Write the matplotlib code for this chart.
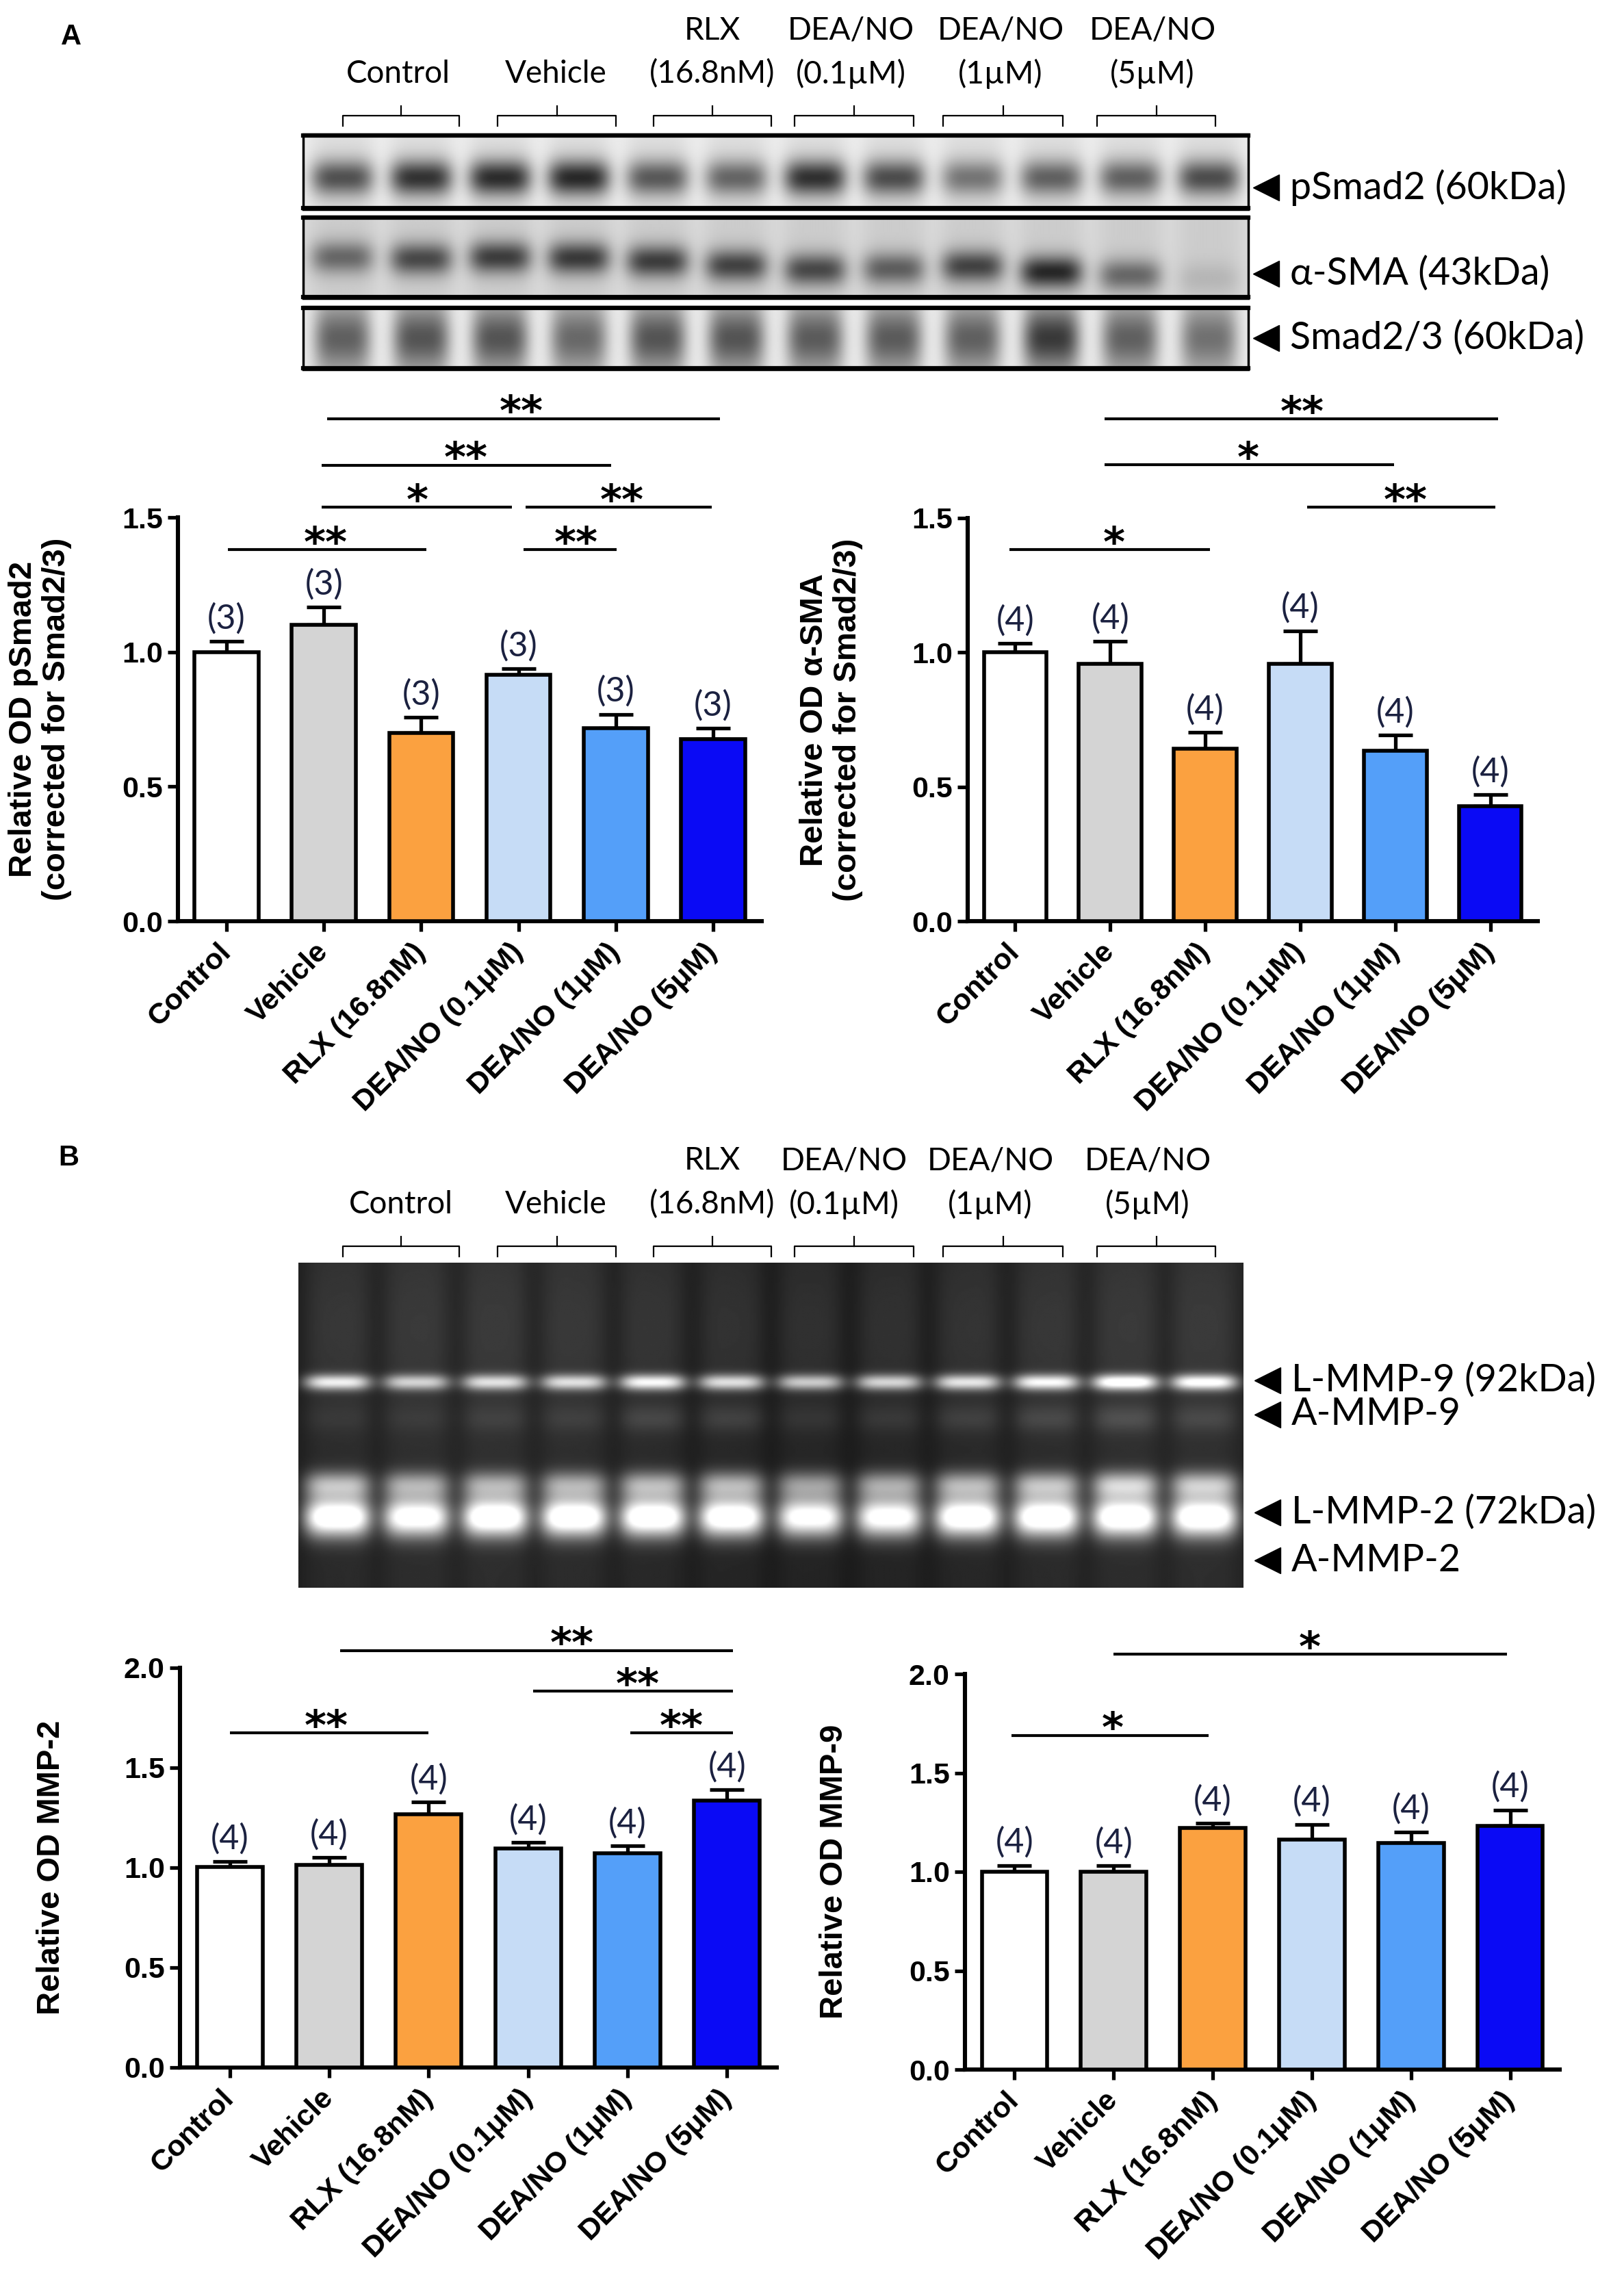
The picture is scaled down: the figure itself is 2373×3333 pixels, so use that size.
import numpy as np
import matplotlib
matplotlib.use("Agg")
import matplotlib.pyplot as plt
from matplotlib import font_manager
from matplotlib.patches import Rectangle
from matplotlib.ticker import FormatStrFormatter

W, H = 2373, 3333

# ---- data ----
groups = ["Control", "Vehicle", "RLX (16.8nM)", "DEA/NO (0.1\u03bcM)",
          "DEA/NO (1\u03bcM)", "DEA/NO (5\u03bcM)"]
bar_colors = ["#ffffff", "#d4d4d4", "#fba140", "#c6dcf6", "#549ff9", "#0a0af5"]

psmad2_mean = [1.00, 1.10, 0.70, 0.914, 0.717, 0.676]
psmad2_sem = [0.04, 0.067, 0.058, 0.023, 0.052, 0.041]
psmad2_n = [3, 3, 3, 3, 3, 3]
# (x start, x end, y, stars, star x)
psmad2_sig = [(0.01, 2.05, 1.380, "**", 1.02), (3.05, 4.01, 1.380, "**", 3.59),
              (0.98, 2.93, 1.538, "*", 1.96), (3.07, 4.99, 1.538, "**", 4.06),
              (0.98, 3.95, 1.694, "**", 2.46), (1.03, 5.07, 1.867, "**", 3.03)]

asma_mean = [1.00, 0.957, 0.643, 0.957, 0.634, 0.428]
asma_sem = [0.033, 0.085, 0.059, 0.124, 0.058, 0.043]
asma_n = [4, 4, 4, 4, 4, 4]
asma_sig = [(-0.06, 2.05, 1.383, "*", 1.04), (3.07, 5.05, 1.541, "**", 4.11),
            (0.94, 3.99, 1.698, "*", 2.45), (0.94, 5.08, 1.868, "**", 3.02)]

mmp2_mean = [1.003, 1.014, 1.266, 1.095, 1.072, 1.335]
mmp2_sem = [0.027, 0.036, 0.062, 0.031, 0.036, 0.055]
mmp2_n = [4, 4, 4, 4, 4, 4]
mmp2_sig = [(0.0, 2.0, 1.675, "**", 0.97), (4.03, 5.06, 1.675, "**", 4.54),
            (3.05, 5.06, 1.882, "**", 4.10), (1.11, 5.06, 2.087, "**", 3.44)]

mmp9_mean = [1.001, 1.000, 1.220, 1.162, 1.144, 1.233]
mmp9_sem = [0.031, 0.030, 0.026, 0.078, 0.058, 0.080]
mmp9_n = [4, 4, 4, 4, 4, 4]
mmp9_sig = [(-0.03, 1.96, 1.69, "*", 0.99), (1.0, 4.97, 2.10, "*", 2.98)]

lane_top = ["", "", "RLX", "DEA/NO", "DEA/NO", "DEA/NO"]
lane_bottom = ["Control", "Vehicle", "(16.8nM)", "(0.1\u00b5M)", "(1\u00b5M)", "(5\u00b5M)"]

# band strength per lane (12 lanes)
psmad2_bands = [0.70, 0.85, 0.88, 0.90, 0.66, 0.60, 0.86, 0.72, 0.52, 0.62, 0.62, 0.72]
asma_bands = [0.55, 0.72, 0.78, 0.80, 0.78, 0.75, 0.72, 0.60, 0.75, 0.90, 0.55, 0.12]
asma_band_pos = [0.50, 0.52, 0.50, 0.51, 0.55, 0.60, 0.65, 0.64, 0.61, 0.68, 0.72, 0.76]
smad23_bands = [0.55, 0.62, 0.62, 0.50, 0.62, 0.62, 0.58, 0.58, 0.55, 0.78, 0.55, 0.45]

lmmp9_bands = [0.75, 0.62, 0.68, 0.68, 0.80, 0.70, 0.62, 0.66, 0.72, 0.80, 0.92, 0.85]
ammp9_bands = [0.04, 0.04, 0.06, 0.06, 0.10, 0.09, 0.05, 0.06, 0.08, 0.10, 0.12, 0.09]
lmmp2_bands = [0.55, 0.48, 0.48, 0.48, 0.52, 0.52, 0.44, 0.48, 0.52, 0.55, 0.62, 0.58]
ammp2_bands = [1.00, 0.92, 1.00, 1.00, 1.00, 1.00, 0.92, 0.92, 1.00, 1.00, 1.00, 1.00]

# ---- fonts ----
avail = {f.name for f in font_manager.fontManager.ttflist}
ARIAL = "Liberation Sans"
NARROW = "Liberation Sans Narrow" if "Liberation Sans Narrow" in avail else "Liberation Sans"
CALIBRI = "Lato" if "Lato" in avail else "DejaVu Sans"

fig = plt.figure(figsize=(W / 100, H / 100), dpi=100)
fig.patch.set_facecolor("white")

ov = fig.add_axes([0, 0, 1, 1])
ov.set_xlim(0, W)
ov.set_ylim(H, 0)
ov.axis("off")


def blot(levels, pos, sig_y, bg, lane_s, nx=700, ny=120, gap=0.0):
    n = len(levels)
    u = (np.arange(nx) + 0.5) / nx * n
    v = (np.arange(ny) + 0.5) / ny
    U, V = np.meshgrid(u, v)
    dark = np.zeros_like(U)
    cover = np.zeros_like(U)
    for i, lv in enumerate(levels):
        h = np.exp(-np.abs((U - (i + 0.5)) / lane_s) ** 4)
        p = pos[i] if np.ndim(pos) else pos
        dark += lv * h * np.exp(-0.5 * ((V - p) / sig_y) ** 2)
        cover += h
    img = bg + gap * (1 - np.clip(cover, 0, 1)) - dark * (bg - 0.08)
    return np.clip(img, 0, 1)


def gel(nx=700, ny=240):
    n = 12
    u = (np.arange(nx) + 0.5) / nx * n
    v = (np.arange(ny) + 0.5) / ny
    U, V = np.meshgrid(u, v)
    img = 0.12 + 0.02 * np.sin(U * 0.7)
    for i in range(n):
        h = np.exp(-np.abs((U - (i + 0.5)) / 0.42) ** 4)
        img = img + 0.04 * h
        img = img + lmmp9_bands[i] * h * np.exp(-0.5 * ((V - 0.368) / 0.017) ** 2)
        img = img + ammp9_bands[i] * h * np.exp(-0.5 * ((V - 0.48) / 0.03) ** 2)
        img = img + lmmp2_bands[i] * h * np.exp(-0.5 * ((V - 0.684) / 0.030) ** 2)
        img = img + 1.05 * ammp2_bands[i] * h * np.exp(-0.5 * ((V - 0.783) / 0.042) ** 2)
        img = img + 0.05 * h * np.exp(-0.5 * ((V - 0.2) / 0.2) ** 2)
    return np.clip(img, 0, 1)


ov.text(104, 54, "A", fontsize=30, fontweight="bold", family=ARIAL, ha="center", va="center")
ov.text(100, 1692, "B", fontsize=30, fontweight="bold", family=ARIAL, ha="center", va="center")

centers_a = [582, 812, 1041, 1243, 1462, 1684]
centers_b = [586, 812, 1041, 1233, 1447, 1677]
spans = [(501, 671), (727, 900), (955, 1127), (1161, 1335), (1378, 1553), (1603, 1776)]


def lane_labels(centers, y1, y2, yb):
    for c, t1, t2 in zip(centers, lane_top, lane_bottom):
        if t1:
            ov.text(c, y1, t1, fontsize=33, family=CALIBRI, ha="center", va="center")
        ov.text(c, y2, t2, fontsize=33, family=CALIBRI, ha="center", va="center")
    for (a, b) in spans:
        m = (a + b) / 2
        ov.plot([a, a, b, b], [yb + 15, yb, yb, yb + 15], color="black", lw=1.6)
        ov.plot([m, m], [yb - 14, yb], color="black", lw=1.6)


lane_labels(centers_a, 45, 108, 169)
lane_labels(centers_b, 1696, 1760, 1821)

BX0, BX1 = 443, 1824
blots = [
    (blot(psmad2_bands, 0.58, 0.17, 0.87, 0.40, gap=0.06), 196, 306, "pSmad2 (60kDa)", 274),
    (blot(asma_bands, asma_band_pos, 0.14, 0.80, 0.40, gap=0.05), 316, 436, "\u03b1-SMA (43kDa)", 400),
    (blot(smad23_bands, 0.50, 0.32, 0.74, 0.36, gap=0.18), 448, 540, "Smad2/3 (60kDa)", 494),
]
for img, y0, y1, name, ly in blots:
    ov.imshow(img, cmap="gray", vmin=0, vmax=1, extent=[BX0, BX1, y1, y0],
              aspect="auto", interpolation="bilinear", zorder=1)
    ov.add_patch(Rectangle((BX0, y0), BX1 - BX0, y1 - y0, fill=False, ec="black", lw=2.5, zorder=2))
    ov.plot([BX0, BX1], [y0 + 2, y0 + 2], color="black", lw=4.5, zorder=2)
    ov.plot([BX0, BX1], [y1 - 2, y1 - 2], color="black", lw=4.5, zorder=2)
    ov.plot([1850], [ly], marker="<", ms=28, color="black", zorder=3)
    ov.text(1885, ly, name, fontsize=40, family=CALIBRI, ha="left", va="center")

ov.imshow(gel(), cmap="gray", vmin=0, vmax=1, extent=[436, 1817, 2320, 1845],
          aspect="auto", interpolation="bilinear", zorder=1)
for name, ly in [("L-MMP-9 (92kDa)", 2017), ("A-MMP-9", 2067),
                 ("L-MMP-2 (72kDa)", 2210), ("A-MMP-2", 2280)]:
    ov.plot([1852], [ly], marker="<", ms=28, color="black", zorder=3)
    ov.text(1887, ly, name, fontsize=40, family=CALIBRI, ha="left", va="center")


# ---- bar charts ----
def bar_panel(rect, means, sems, ns, ymax, yticks, ylabel, sig, label_x):
    ax = fig.add_axes(rect)
    ax.patch.set_alpha(0)
    x = np.arange(len(groups))
    ax.errorbar(x, means, yerr=[np.zeros(len(means)), sems], fmt="none", ecolor="black",
                elinewidth=3.8, capsize=18, capthick=3.8, zorder=2)
    ax.bar(x, means, width=0.66, color=bar_colors, edgecolor="black", linewidth=4.0, zorder=3)
    ax.set_xlim(-0.5, 5.5)
    ax.set_ylim(0, ymax)
    for s in ["top", "right"]:
        ax.spines[s].set_visible(False)
    for s in ["left", "bottom"]:
        ax.spines[s].set_linewidth(4.4)
    ax.set_yticks(yticks)
    ax.yaxis.set_major_formatter(FormatStrFormatter("%.1f"))
    ax.tick_params(axis="y", direction="out", length=11, width=3.8, pad=5)
    ax.tick_params(axis="x", direction="out", length=11, width=3.8, pad=17)
    for lbl in ax.get_yticklabels():
        lbl.set_fontproperties(font_manager.FontProperties(family=NARROW, weight="bold", size=31))
    ax.set_xticks(x)
    ax.set_xticklabels(groups, rotation=45, ha="right", va="center", rotation_mode="anchor",
                       fontsize=31, fontweight="bold", family=ARIAL)
    ax.set_ylabel(ylabel, fontsize=34, fontweight="bold", family=ARIAL, linespacing=1.15)
    ax.yaxis.set_label_coords(label_x, 0.5)
    for xi, m, s, n in zip(x, means, sems, ns):
        ax.annotate(f"({n})", (xi, m + s), xytext=(0, 7), textcoords="offset points",
                    ha="center", va="bottom", fontsize=36, family=CALIBRI, color="#1b2140",
                    annotation_clip=False)
    for x0, x1, y, stars, sx in sig:
        ax.plot([x0, x1], [y, y], color="black", lw=3.0, clip_on=False, solid_capstyle="butt")
        ax.annotate(stars, (sx, y), xytext=(0, -7), textcoords="offset points", ha="center",
                    va="baseline", fontsize=44, fontweight="bold", family="DejaVu Sans",
                    annotation_clip=False)
    return ax


bar_panel([260 / W, 1 - 1346 / H, 853 / W, 590 / H], psmad2_mean, psmad2_sem, psmad2_n,
          1.5, [0, 0.5, 1.0, 1.5], "Relative OD pSmad2\n(corrected for Smad2/3)", psmad2_sig, -0.182)
bar_panel([1414 / W, 1 - 1346 / H, 833 / W, 589 / H], asma_mean, asma_sem, asma_n,
          1.5, [0, 0.5, 1.0, 1.5], "Relative OD \u03b1-SMA\n(corrected for Smad2/3)", asma_sig, -0.184)
bar_panel([263 / W, 1 - 3021 / H, 872 / W, 584 / H], mmp2_mean, mmp2_sem, mmp2_n,
          2.0, [0, 0.5, 1.0, 1.5, 2.0], "Relative OD MMP-2", mmp2_sig, -0.19)
bar_panel([1410 / W, 1 - 3024 / H, 869 / W, 578 / H], mmp9_mean, mmp9_sem, mmp9_n,
          2.0, [0, 0.5, 1.0, 1.5, 2.0], "Relative OD MMP-9", mmp9_sig, -0.194)

fig.savefig("out.png", dpi=100)
